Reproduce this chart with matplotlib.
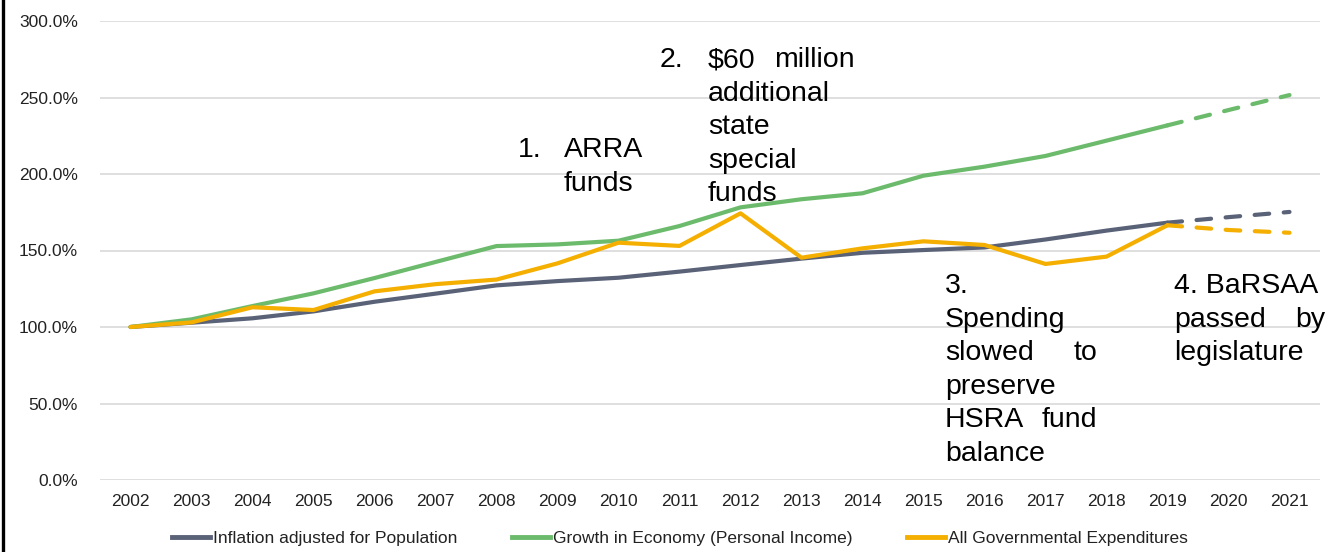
import matplotlib
matplotlib.use("Agg")
from matplotlib import pyplot as plt
from matplotlib.lines import Line2D
from matplotlib.ticker import FuncFormatter

plt.rcParams['font.family'] = ['Liberation Sans', 'DejaVu Sans']

#----------------- Données -----------------#
years = [str(y) for y in range(2002, 2022)]
inflation = [100, 102.8, 105.7, 110.2, 116.5, 121.8, 127.2, 130.0, 132.2, 136.2,
             140.5, 144.7, 148.5, 150.3, 152.0, 157.2, 163.0, 168.2, 171.8, 175.2]
growth = [100, 105.0, 113.7, 122.0, 132.0, 142.5, 152.9, 154.0, 156.4, 166.0,
          178.2, 183.5, 187.4, 198.9, 204.8, 211.8, 221.8, 231.8, 241.8, 251.6]
expend = [100, 103.0, 112.9, 111.1, 123.3, 128.0, 131.0, 141.6, 155.1, 153.0,
          174.3, 145.3, 151.4, 156.0, 153.6, 141.2, 146.0, 166.5, 163.4, 161.6]
labels = ["Inflation adjusted for Population",
          "Growth in Economy (Personal Income)",
          "All Governmental Expenditures"]
# dernière année réelle, ensuite projection en pointillés
last_actual = 2019

c_infl = '#5A6278'
c_growth = '#6CBB6C'
c_exp = '#F4AF00'

#----------------- Figure -----------------#
fig = plt.figure(figsize=(13.28, 5.52), dpi=100)
ax = fig.add_axes([100 / 1328, 1 - 480 / 552, 1220 / 1328, 459 / 552])

x = list(range(len(years)))
k = years.index(str(last_actual))
for vals, col in [(inflation, c_infl), (growth, c_growth), (expend, c_exp)]:
    ax.plot(x[:k + 1], vals[:k + 1], color=col, lw=3, solid_capstyle='round',
            solid_joinstyle='round')
    ax.plot(x[k:], vals[k:], color=col, lw=3, ls=(0, (3.5, 3.5)),
            dash_capstyle='round')

ax.set_xlim(-0.5, len(years) - 0.5)
ax.set_ylim(0, 300)
ax.set_yticks(range(0, 301, 50))
ax.yaxis.set_major_formatter(FuncFormatter(lambda v, p: f"{v:.1f}%"))
ax.set_xticks(x)
ax.set_xticklabels(years)
ax.tick_params(length=0, labelsize=12.5, colors='#222222', pad=10)
ax.tick_params(axis='y', pad=16)
ax.grid(axis='y', color='#D9D9D9', lw=1.2)
ax.set_axisbelow(True)
for s in ax.spines.values():
    s.set_visible(False)

#----------------- Légende -----------------#
handles = [Line2D([], [], color=c, lw=3.5) for c in (c_infl, c_growth, c_exp)]
fig.legend(handles, labels, loc='center', bbox_to_anchor=(0.512, 1 - 538 / 552),
           ncol=3, frameon=False, fontsize=12.5, handlelength=2.2,
           handletextpad=0.2, columnspacing=3.1, labelcolor='#222222')

#----------------- Annotations -----------------#
def px(xp, yp):
    # pixels de l'image -> coordonnées figure
    return xp / 1328, 1 - yp / 552

fs = 20.5
def txt(xp, yp, s, ha='left'):
    fig.text(*px(xp, yp), s, fontsize=fs, ha=ha, va='baseline', color='black')

lh = 33.6
txt(518, 157, "1.")
txt(564, 157, "ARRA")
txt(564, 157 + lh, "funds")

txt(660, 67, "2.")
txt(708, 67, "$60")
txt(855, 67, "million", ha='right')
for i, s in enumerate(["additional", "state", "special", "funds"]):
    txt(708, 67 + lh * (i + 1), s)

txt(945, 293, "3.")
txt(945, 293 + lh, "Spending")
txt(945, 293 + 2 * lh, "slowed")
txt(1097, 293 + 2 * lh, "to", ha='right')
txt(945, 293 + 3 * lh, "preserve")
txt(945, 293 + 4 * lh, "HSRA")
txt(1097, 293 + 4 * lh, "fund", ha='right')
txt(945, 293 + 5 * lh, "balance")

txt(1174, 293, "4. BaRSAA")
txt(1174, 293 + lh, "passed")
txt(1325, 293 + lh, "by", ha='right')
txt(1174, 293 + 2 * lh, "legislature")

# bordure gauche
fig.add_artist(Line2D([3.5 / 1328, 3.5 / 1328], [0, 1], color='black', lw=2.4,
                      transform=fig.transFigure))

fig.savefig('out.png', dpi=100)
